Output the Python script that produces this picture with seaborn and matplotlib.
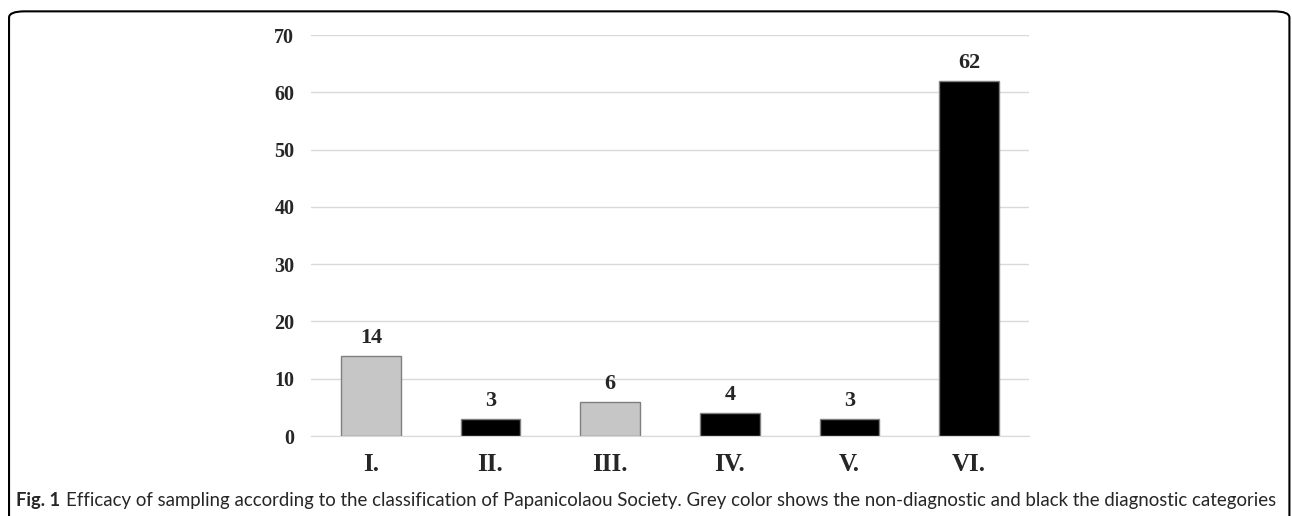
import pandas as pd
import seaborn as sns
import matplotlib.pyplot as plt
from matplotlib.patches import FancyBboxPatch

# Papanicolaou Society categories
categories = ["I.", "II.", "III.", "IV.", "V.", "VI."]
counts = [14, 3, 6, 4, 3, 62]
groups = ["non-diagnostic", "diagnostic", "non-diagnostic", "diagnostic", "diagnostic", "diagnostic"]
yticks = [0, 10, 20, 30, 40, 50, 60, 70]
caption_head = "Fig. 1"
caption = ("Efficacy of sampling according to the classification of Papanicolaou Society. "
           "Grey color shows the non-diagnostic and black the diagnostic categories")

df = pd.DataFrame({"category": categories, "count": counts, "group": groups})
palette = {"non-diagnostic": "#c6c6c6", "diagnostic": "#000000"}

sns.set_style("white")
serif = ["Liberation Serif", "DejaVu Serif"]
sans = ["Lato", "Open Sans", "DejaVu Sans"]

fig = plt.figure(figsize=(12.92, 5.16), dpi=100)
ax = fig.add_axes([0.2407, 0.155, 0.5557, 0.777])

sns.barplot(data=df, x="category", y="count", hue="group", palette=palette,
            dodge=False, width=0.5, legend=False, ax=ax,
            edgecolor="#7f7f7f", linewidth=1)

for i, v in enumerate(counts):
    ax.text(i, v + 1.4, str(v), ha="center", va="bottom",
            fontsize=16, fontweight="bold", family=serif)

ax.set_ylim(0, 70)
ax.set_xlim(-0.5, 5.5)
ax.set_yticks(yticks)
ax.yaxis.grid(True, color="#d9d9d9", linewidth=1)
ax.set_axisbelow(True)
for s in ["top", "right", "left"]:
    ax.spines[s].set_visible(False)
ax.spines["bottom"].set_color("#d9d9d9")
ax.tick_params(axis="both", length=0)
ax.tick_params(axis="y", pad=12)
ax.tick_params(axis="x", pad=12)
for lab in ax.get_yticklabels():
    lab.set_fontproperties({"family": serif, "weight": "bold", "size": 14.5})
for lab in ax.get_xticklabels():
    lab.set_fontproperties({"family": serif, "weight": "bold", "size": 18})
ax.set_xlabel("")
ax.set_ylabel("")

# caption, sized to span the same width as in the figure
head = fig.text(16 / 1292, 0.02, caption_head, fontsize=14, fontweight="bold",
                family=sans, ha="left", va="baseline")
body = fig.text(0, 0.02, caption, fontsize=14, family=sans,
                ha="left", va="baseline")
fig.canvas.draw()
r = fig.canvas.get_renderer()
size = 14 * (1282 - 80) / body.get_window_extent(r).width
body.set_fontsize(size)
head.set_fontsize(size)
fig.canvas.draw()
x_end = head.get_window_extent(r).x1 + 6
body.set_fontsize(14 * (1282 - x_end) / (body.get_window_extent(r).width * 14 / size))
body.set_x(x_end / 1292)

# rounded frame around the figure
frame = FancyBboxPatch((0.007, -0.1), 0.991, 1.078, boxstyle="round,pad=0,rounding_size=0.012",
                       transform=fig.transFigure, fill=False, edgecolor="black",
                       linewidth=1.5, clip_on=False)
fig.patches.append(frame)

fig.savefig("out.png", dpi=100)
